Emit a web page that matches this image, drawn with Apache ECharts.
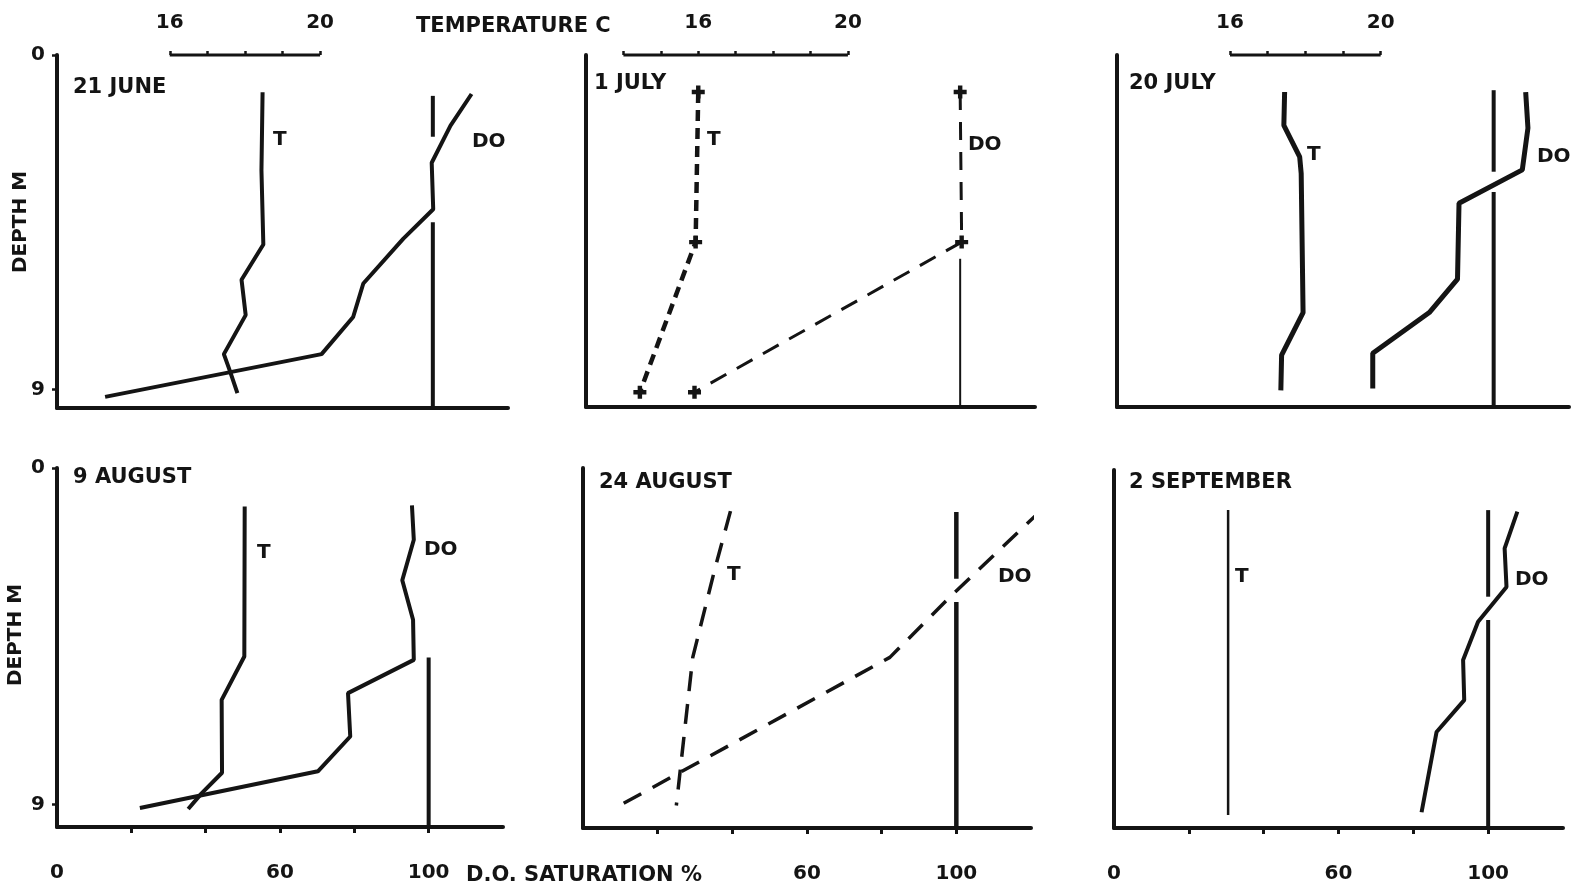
<!DOCTYPE html>
<html><head><meta charset="utf-8">
<script src="https://cdn.jsdelivr.net/npm/echarts@6/dist/echarts.min.js"></script>
<style>html,body{margin:0;padding:0;background:#fff}#c{width:1574px;height:893px}</style>
</head><body><div id="c"></div>
<script>
// ---------- DATA ----------
const panelTitles = ['21 JUNE', '1 JULY', '20 JULY', '9 AUGUST', '24 AUGUST', '2 SEPTEMBER'];

// Temperature profiles: [temperature °C, depth m]
const tempJun21 = [[18.47,1.0],[18.44,3.1],[18.49,5.1],[17.91,6.05],[18.02,7.0],[17.44,8.05],[17.6,8.5],[17.8,9.1]];
const tempJul1  = [[16.0,1.0],[15.93,5.05],[14.44,9.1]];
const tempJul20 = [[17.45,1.0],[17.43,1.9],[17.85,2.75],[17.89,3.2],[17.94,6.95],[17.37,8.1],[17.35,9.05]];
const tempAug9  = [[18.05,1.03],[18.04,5.04],[17.43,6.2],[17.44,8.15],[16.89,8.7],[16.53,9.12]];
const tempAug24 = [[16.95,1.15],[16.53,2.7],[15.94,5.05],[15.5,9.0]];
const tempSep2  = [[16.05,1.07],[16.05,9.2]];

// Dissolved oxygen saturation profiles: [% saturation, depth m]
const doJun21 = [[110.3,1.05],[104.7,1.9],[99.7,2.9],[100.1,4.15],[92.1,4.95],[81.5,6.15],[78.8,7.05],[70.4,8.05],[12.8,9.2]];
const doJul1  = [[100,1.0],[100.4,5.05],[29.0,9.1]];
const doJul20 = [[108.5,1.0],[109.1,1.97],[107.6,3.1],[90.8,4.0],[90.4,6.05],[82.9,6.95],[67.9,8.05],[67.9,9.0]];
const doAug9  = [[95.5,1.0],[96.0,1.92],[92.9,3.0],[95.8,4.06],[96.0,5.13],[78.3,6.02],[78.9,7.18],[70.2,8.11],[22.3,9.09]];
const doAug24 = [[122.8,1.12],[98.7,3.4],[82.2,5.05],[8.9,9.05]];
const doSep2  = [[107.8,1.11],[104.4,2.09],[104.9,3.12],[97.3,4.05],[93.3,5.07],[93.6,6.14],[86.2,6.99],[82.2,9.13]];

// 100 % saturation reference line, drawn segments [from depth, to depth]
const satJun21 = [[1.1,2.2],[4.5,9.5]];
const satJul1  = [[5.5,9.5]];
const satJul20 = [[0.95,3.15],[3.7,9.5]];
const satAug9  = [[5.07,9.6]];
const satAug24 = [[1.17,2.95],[3.57,9.6]];
const satSep2  = [[1.07,3.38],[4.0,9.55]];

// Tick / label values
const depthTicks = [0, 9];
const doTicks = [20, 40, 60, 80, 100];
const doLabels = [0, 60, 100];
const doLabelsMid = [60, 100];
const tempTicks = [16, 17, 18, 19, 20];
const tempTicksJul1 = [14, 15, 16, 17, 18, 19, 20];
const tempLabels = [16, 20];
const SAT_REF = 100;
const DO_MAX = 120;
// temperature scale: 13 °C at 0 %, 1 °C per 10 %
const T_AT_ZERO = 13, T_PER_PCT = 0.1;

// ---------- LAYOUT ----------
const INK = '#141414';
const FONT = 'DejaVu Sans';
const layout = [
  {left:57,   top:55,  width:451, height:353, ymax:9.5},
  {left:586,  top:55,  width:449, height:352, ymax:9.5},
  {left:1117, top:55,  width:452, height:352, ymax:9.5},
  {left:57,   top:468, width:446, height:359, ymax:9.6},
  {left:583,  top:468, width:448, height:360, ymax:9.6},
  {left:1114, top:470, width:449, height:358, ymax:9.55}
];
const temps = [tempJun21, tempJul1, tempJul20, tempAug9, tempAug24, tempSep2];
const dos = [doJun21, doJul1, doJul20, doAug9, doAug24, doSep2];
const sats = [satJun21, satJul1, satJul20, satAug9, satAug24, satSep2];
const tScales = [tempTicks, tempTicksJul1, tempTicks, null, null, null];
const bottomLabels = [null, null, null, doLabels, doLabelsMid, doLabels];
const showDepthLabels = [true, false, false, true, false, false];
const dashed = [false, true, false, false, true, false];
const lineW = [
  {t:4, d:4, s:4}, {t:4.5, d:3, s:2}, {t:5, d:5, s:4},
  {t:4, d:4, s:4}, {t:3.5, d:3.5, s:4.5}, {t:2.5, d:4, s:4}
];
const PLUS = 'path://M3.3,0L6.7,0L6.7,3.3L10,3.3L10,6.7L6.7,6.7L6.7,10L3.3,10L3.3,6.7L0,6.7L0,3.3L3.3,3.3Z';

const labelFont = {fontFamily: FONT, fontWeight: 'bold', fontSize: 20, color: INK};

const grid = [], xAxis = [], yAxis = [], series = [];
layout.forEach((g, i) => {
  grid.push({left:g.left, top:g.top, width:g.width, height:g.height});
  const bl = bottomLabels[i];
  xAxis.push({
    type:'value', gridIndex:i, min:0, max:DO_MAX, position:'bottom',
    axisLine:{show:true, onZero:false, lineStyle:{color:INK, width:4}},
    axisTick:{show: !!bl, customValues: doTicks, length:6, lineStyle:{color:INK, width:3}},
    axisLabel:{show: !!bl, customValues: bl || [], margin:36, ...labelFont},
    splitLine:{show:false}
  });
  const ts = tScales[i];
  xAxis.push({
    type:'value', gridIndex:i, min:T_AT_ZERO, max:T_AT_ZERO + DO_MAX*T_PER_PCT, position:'top',
    axisLine:{show:false},
    axisTick:{show: !!ts, customValues: ts || [], length:4, lineStyle:{color:INK, width:2.5}},
    axisLabel:{show: !!ts, customValues: ts ? tempLabels : [], margin:22, ...labelFont},
    splitLine:{show:false}
  });
  yAxis.push({
    type:'value', gridIndex:i, min:0, max:g.ymax, inverse:true,
    axisLine:{show:true, onZero:false, lineStyle:{color:INK, width:4}},
    axisTick:{show: showDepthLabels[i], customValues: depthTicks, length:5, lineStyle:{color:INK, width:2.5}},
    axisLabel:{show: showDepthLabels[i], customValues: depthTicks, margin:12, ...labelFont},
    splitLine:{show:false}
  });

  // temperature scale bar
  if (ts) {
    series.push({
      type:'line', xAxisIndex:i*2+1, yAxisIndex:i, silent:true, symbol:'none', clip:false,
      data:[[ts[0], 0], [ts[ts.length-1], 0]],
      lineStyle:{color:INK, width:3}
    });
  }
  // 100% saturation reference segments
  sats[i].forEach(seg => {
    series.push({
      type:'line', xAxisIndex:i*2, yAxisIndex:i, silent:true, symbol:'none',
      data:[[SAT_REF, seg[0]], [SAT_REF, seg[1]]],
      lineStyle:{color:INK, width:lineW[i].s}
    });
  });
  const dash = dashed[i];
  series.push({
    name:'T', type:'line', xAxisIndex:i*2+1, yAxisIndex:i, clip:false,
    data: temps[i],
    symbol: i === 1 ? PLUS : 'none', symbolSize: 13, symbolKeepAspect:true, showSymbol: i === 1,
    itemStyle:{color:INK, borderWidth:0},
    lineStyle:{color:INK, width:lineW[i].t, type: dash ? (i === 1 ? [11, 7] : [20, 13]) : 'solid'}
  });
  series.push({
    name:'DO', type:'line', xAxisIndex:i*2, yAxisIndex:i, clip:false,
    data: dos[i],
    symbol: i === 1 ? PLUS : 'none', symbolSize: 13, symbolKeepAspect:true, showSymbol: i === 1,
    itemStyle:{color:INK, borderWidth:0},
    lineStyle:{color:INK, width:lineW[i].d, type: dash ? (i === 1 ? [18, 12] : [20, 13]) : 'solid'}
  });
});

// ---------- TEXT ----------
function txt(text, x, y, size) {
  return {type:'text', x:x, y:y, z:10,
    style:{text:text, font:'bold ' + (size || 20) + 'px "' + FONT + '"', fill:INK, textVerticalAlign:'middle'}};
}
const titlePos = [[73,88],[594,84],[1129,84],[73,478],[599,483],[1129,483]];
const tPos = [[273,140],[707,140],[1307,155],[257,553],[727,575],[1235,577]];
const doPos = [[472,142],[968,145],[1537,157],[424,550],[998,577],[1515,580]];
const graphic = [];
panelTitles.forEach((t, i) => {
  graphic.push(txt(t, titlePos[i][0], titlePos[i][1], 21));
  graphic.push(txt('T', tPos[i][0], tPos[i][1]));
  graphic.push(txt('DO', doPos[i][0], doPos[i][1]));
});
graphic.push(txt('TEMPERATURE C', 416, 27, 21));
graphic.push(txt('D.O. SATURATION %', 466, 876, 21));
graphic.push({type:'text', x:21, y:222, rotation:Math.PI/2,
  style:{text:'DEPTH M', font:'bold 20px "' + FONT + '"', fill:INK, textAlign:'center', textVerticalAlign:'middle'}});
graphic.push({type:'text', x:16, y:635, rotation:Math.PI/2,
  style:{text:'DEPTH M', font:'bold 20px "' + FONT + '"', fill:INK, textAlign:'center', textVerticalAlign:'middle'}});

const chart = echarts.init(document.getElementById('c'), null, {renderer:'canvas'});
chart.setOption({
  backgroundColor:'#ffffff',
  animation:false,
  grid, xAxis, yAxis, series, graphic
});
</script>
</body></html>
